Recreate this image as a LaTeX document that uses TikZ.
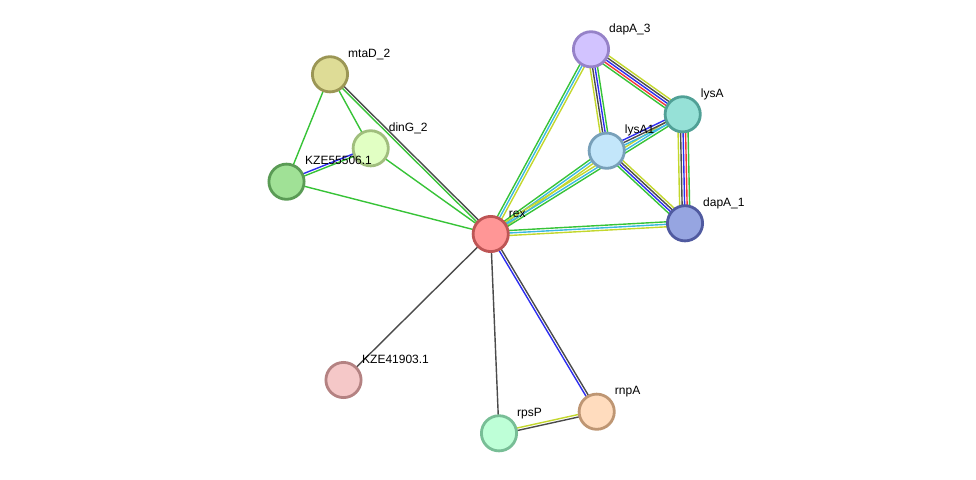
\documentclass[tikz,border=0pt]{standalone}
\usepackage{fontspec}
\setmainfont{Liberation Sans}
\usetikzlibrary{backgrounds,calc}
\definecolor{egreen}{RGB}{55,195,55}
\definecolor{ecyan}{RGB}{60,185,225}
\definecolor{eyellow}{RGB}{195,215,45}
\definecolor{eblue}{RGB}{45,45,240}
\definecolor{eblack}{RGB}{75,75,75}
\definecolor{ered}{RGB}{240,55,55}
\definecolor{fRex}{RGB}{255,150,150}\definecolor{dRex}{RGB}{190,85,85}
\definecolor{fMta}{RGB}{222,220,150}\definecolor{dMta}{RGB}{155,150,85}
\definecolor{fDin}{RGB}{225,255,195}\definecolor{dDin}{RGB}{160,190,125}
\definecolor{fK55}{RGB}{160,225,150}\definecolor{dK55}{RGB}{90,155,85}
\definecolor{fDa3}{RGB}{210,195,255}\definecolor{dDa3}{RGB}{150,130,200}
\definecolor{fLys}{RGB}{150,225,215}\definecolor{dLys}{RGB}{80,160,150}
\definecolor{fLy1}{RGB}{195,230,250}\definecolor{dLy1}{RGB}{120,160,185}
\definecolor{fDa1}{RGB}{150,165,225}\definecolor{dDa1}{RGB}{80,90,160}
\definecolor{fK41}{RGB}{245,200,200}\definecolor{dK41}{RGB}{180,130,130}
\definecolor{fRps}{RGB}{190,255,215}\definecolor{dRps}{RGB}{120,190,150}
\definecolor{fRnp}{RGB}{255,220,190}\definecolor{dRnp}{RGB}{190,150,115}
\newcommand\sedge[3]{%
  \foreach \c [count=\i] in {#3} {\xdef\ncount{\i}}%
  \foreach \c [count=\i] in {#3} {%
    \pgfmathsetmacro\off{(\i-(\ncount+1)/2)*2.5}%
    \draw[color=\c, edgeline] ($(#1.center)!\off pt!90:(#2.center)$) -- ($(#2.center)!\off pt!-90:(#1.center)$);
  }}
\begin{document}
\begin{tikzpicture}[x=1pt,y=-1pt,
  prot/.style={circle, minimum size=35.2pt, inner sep=0pt, outer sep=0pt, line width=2.8pt},
  lbl/.style={anchor=base west, inner sep=0pt, font=\fontsize{12}{14}\selectfont},
  edgeline/.style={line width=1.4pt}]
\useasboundingbox (0,0) rectangle (976,479);
\node[prot, fill=fRex, draw=dRex] (rex) at (490.7,234) {};
\node[prot, fill=fMta, draw=dMta] (mta) at (330,74.3) {};
\node[prot, fill=fDin, draw=dDin] (din) at (370.7,148.3) {};
\node[prot, fill=fK55, draw=dK55] (k55) at (286.5,181.7) {};
\node[prot, fill=fDa3, draw=dDa3] (da3) at (591,49.3) {};
\node[prot, fill=fLys, draw=dLys] (lys) at (682.7,114.3) {};
\node[prot, fill=fLy1, draw=dLy1] (ly1) at (606.7,150.7) {};
\node[prot, fill=fDa1, draw=dDa1] (da1) at (685,223.3) {};
\node[prot, fill=fK41, draw=dK41] (k41) at (343.5,380) {};
\node[prot, fill=fRps, draw=dRps] (rps) at (499,433.3) {};
\node[prot, fill=fRnp, draw=dRnp] (rnp) at (596.7,411.7) {};
\node[lbl] (rex-l) at ($(rex)+(18,-17)$) {rex};
\node[lbl] (mta-l) at ($(mta)+(18,-17)$) {mtaD\_2};
\node[lbl] (din-l) at ($(din)+(18,-17)$) {dinG\_2};
\node[lbl] (k55-l) at ($(k55)+(18.5,-17)$) {KZE55506.1};
\node[lbl] (da3-l) at ($(da3)+(18,-17)$) {dapA\_3};
\node[lbl] (lys-l) at ($(lys)+(18,-17)$) {lysA};
\node[lbl] (ly1-l) at ($(ly1)+(18,-17.5)$) {lysA1};
\node[lbl] (da1-l) at ($(da1)+(18,-17)$) {dapA\_1};
\node[lbl] (k41-l) at ($(k41)+(18.5,-17)$) {KZE41903.1};
\node[lbl] (rps-l) at ($(rps)+(18,-17)$) {rpsP};
\node[lbl] (rnp-l) at ($(rnp)+(18,-17)$) {rnpA};
\begin{scope}[on background layer]
\sedge{mta}{din}{egreen}
\sedge{mta}{k55}{egreen}
\sedge{din}{rex}{egreen}
\sedge{k55}{rex}{egreen}
\sedge{mta}{rex}{egreen,eblack}
\sedge{din}{k55}{eblue,egreen}
\sedge{rex}{k41}{eblack}
\sedge{rex}{rps}{eblack}
\sedge{rex}{rnp}{eblue,eblack}
\sedge{rps}{rnp}{eblack,eyellow}
\sedge{rex}{da3}{eyellow,ecyan,egreen}
\sedge{rex}{ly1}{eyellow,ecyan,egreen}
\sedge{rex}{lys}{egreen,ecyan,eyellow}
\sedge{rex}{da1}{eyellow,ecyan,egreen}
\sedge{da3}{lys}{egreen,ered,eblue,eblack,eyellow}
\sedge{da3}{ly1}{eyellow,eblack,eblue,egreen}
\sedge{lys}{da1}{eyellow,eblack,eblue,ered,egreen}
\sedge{ly1}{da1}{egreen,eblue,eblack,eyellow}
\sedge{ly1}{lys}{ecyan,eblack,eblue}
\end{scope}
\end{tikzpicture}
\end{document}
